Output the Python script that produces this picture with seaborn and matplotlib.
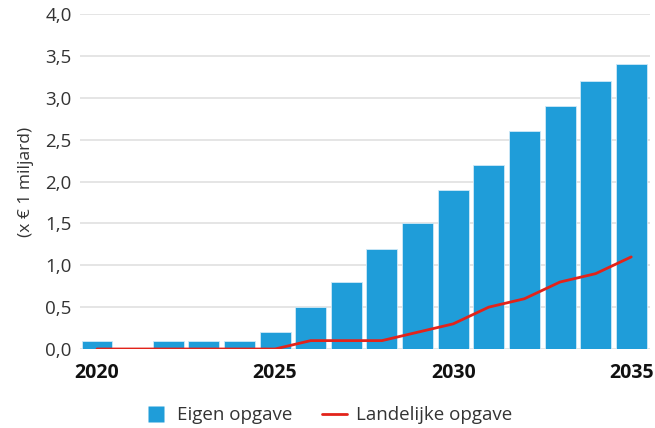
import matplotlib
matplotlib.use("Agg")
import matplotlib.pyplot as plt
import seaborn as sns
import numpy as np
import pandas as pd
from matplotlib.lines import Line2D

years = [str(y) for y in range(2020, 2036)]
eigen_opgave = [0.1, 0.0, 0.1, 0.1, 0.1, 0.2, 0.5, 0.8, 1.2, 1.5, 1.9, 2.2, 2.6, 2.9, 3.2, 3.4]
landelijke_opgave = [0.0, 0.0, 0.0, 0.0, 0.0, 0.0, 0.1, 0.1, 0.1, 0.2, 0.3, 0.5, 0.6, 0.8, 0.9, 1.1]
yticks = [0.0, 0.5, 1.0, 1.5, 2.0, 2.5, 3.0, 3.5, 4.0]
xtick_labels = ["2020", "2025", "2030", "2035"]

bar_color = "#1f9dd9"
line_color = "#e2231a"

sns.set_theme(style="white")
plt.rcParams['font.family'] = ['Open Sans', 'DejaVu Sans']

df = pd.DataFrame({"jaar": years, "eigen": eigen_opgave,
                   "landelijk": landelijke_opgave, "pos": np.arange(len(years))})

fig = plt.figure(figsize=(6.55, 4.28), dpi=100)
ax = fig.add_axes([0.122, 0.1846, 0.870, 0.7824])

sns.barplot(data=df, x="jaar", y="eigen", color=bar_color, width=0.87,
            saturation=1, edgecolor="#cfe9f7", linewidth=0.6, ax=ax, zorder=2)
sns.lineplot(data=df, x="pos", y="landelijk", color=line_color, linewidth=2,
             ax=ax, zorder=3)

ax.set_xlim(-0.48, 15.52)
ax.set_ylim(0, 4.0)
ax.set_yticks(yticks)
ax.set_yticklabels([f"{v:.1f}".replace(".", ",") for v in yticks],
                   fontsize=13.5, color="#333333")
ax.set_xticks([years.index(t) for t in xtick_labels])
ax.set_xticklabels(xtick_labels, fontsize=14, fontweight="bold", color="#111111")
ax.tick_params(axis="both", length=0)
ax.tick_params(axis="y", pad=6)
ax.tick_params(axis="x", pad=10)
ax.grid(axis="y", color="#e3e3e3", linewidth=1.3, zorder=0)
ax.set_axisbelow(True)
for s in ax.spines.values():
    s.set_visible(False)
ax.set_xlabel("")
ax.set_ylabel("(x € 1 miljard)", fontsize=12.5, color="#333333", labelpad=8)

handles = [Line2D([0], [0], linestyle="none", marker="s", markersize=11.5,
                  markerfacecolor=bar_color, markeredgecolor="none"),
           Line2D([0], [0], color=line_color, linewidth=2)]
fig.legend(handles, ["Eigen opgave", "Landelijke opgave"], loc="center",
           bbox_to_anchor=(0.5, 0.03), ncol=2, frameon=False, fontsize=13.5,
           handlelength=1.35, handletextpad=0.45,
           columnspacing=1.6, labelcolor="#333333")

fig.savefig("out.png", dpi=100)
